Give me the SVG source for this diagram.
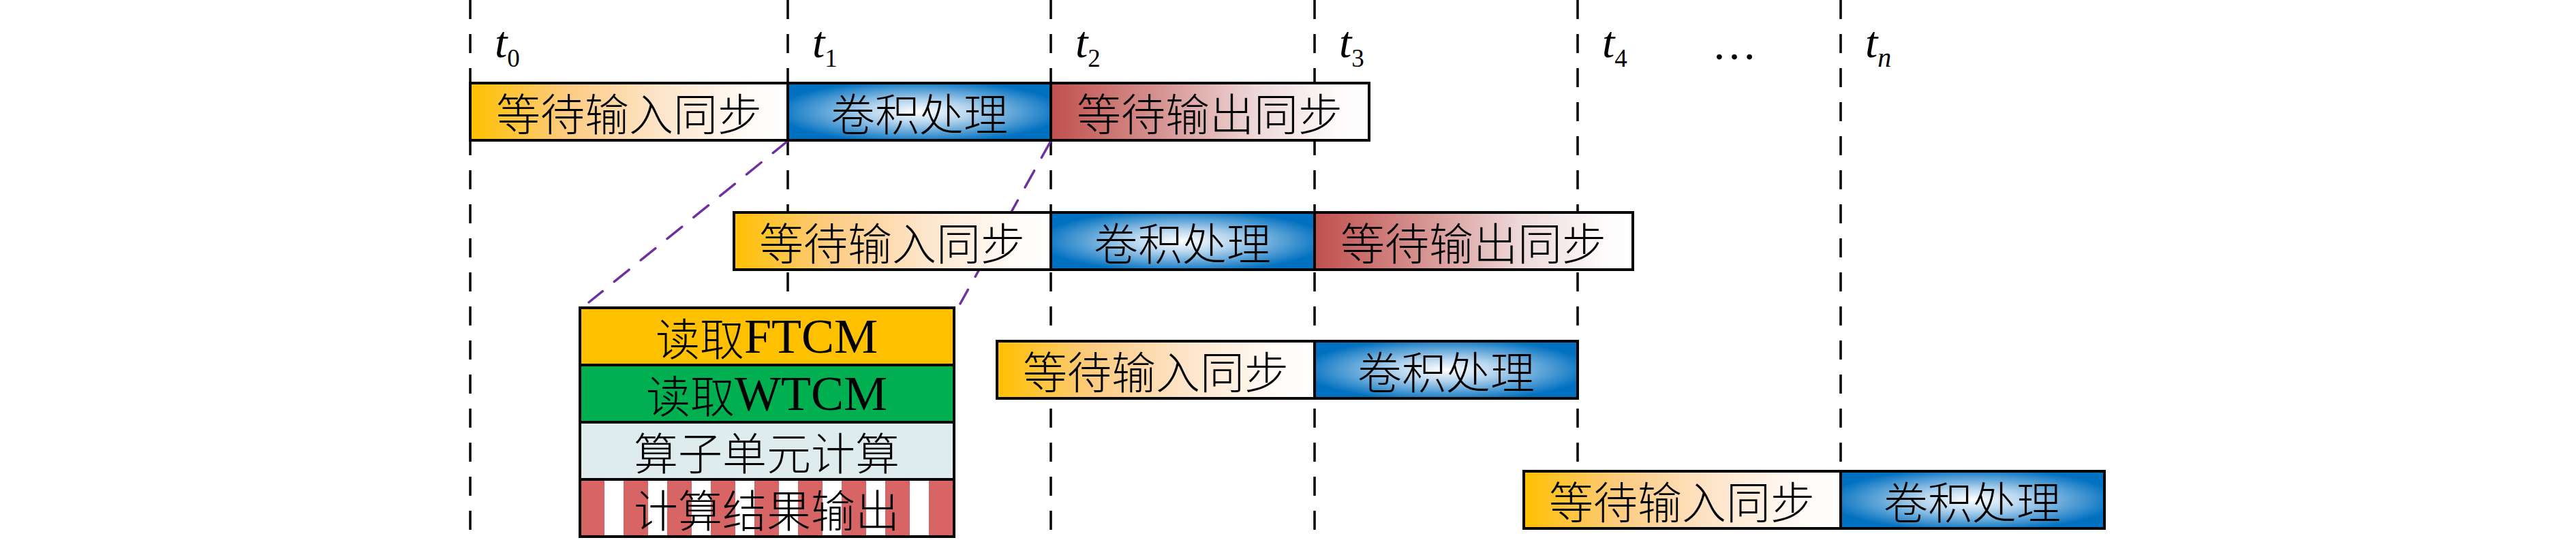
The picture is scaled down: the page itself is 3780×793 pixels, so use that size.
<svg xmlns="http://www.w3.org/2000/svg" width="3780" height="793" viewBox="0 0 3780 793">
<defs>
<linearGradient id="gIn" x1="0" y1="0" x2="1" y2="0">
<stop offset="0" stop-color="#FFC000"/>
<stop offset="0.3" stop-color="#FCCB80"/>
<stop offset="0.6" stop-color="#FDE5CB"/>
<stop offset="0.88" stop-color="#FFFBF7"/>
<stop offset="1" stop-color="#FFFFFF"/>
</linearGradient>
<linearGradient id="gOut" x1="0" y1="0" x2="1" y2="0">
<stop offset="0" stop-color="#C0504D"/>
<stop offset="0.35" stop-color="#D69593"/>
<stop offset="0.65" stop-color="#EED9D9"/>
<stop offset="0.9" stop-color="#FDFAFA"/>
<stop offset="1" stop-color="#FFFFFF"/>
</linearGradient>
<radialGradient id="gConv" cx="0.5" cy="0.5" r="0.55">
<stop offset="0" stop-color="#FFFFFF"/>
<stop offset="0.35" stop-color="#B6D5EE"/>
<stop offset="1" stop-color="#0070C0"/>
</radialGradient>
<pattern id="stripes" patternUnits="userSpaceOnUse" x="851" y="0" width="64" height="20">
<rect x="0" y="0" width="36" height="20" fill="#D86565"/>
<rect x="36" y="0" width="28" height="20" fill="#FFFFFF"/>
</pattern>
<style>
.vl{stroke:#000;stroke-width:3.5;stroke-dasharray:28 22;fill:none}
.pl{stroke:#7030A0;stroke-width:3.5;stroke-dasharray:28 22;fill:none;stroke-linecap:round}
.box{stroke:#000;stroke-width:4}
.in{fill:url(#gIn)}
.out{fill:url(#gOut)}
.conv{fill:url(#gConv)}
.cjk{font-family:"Noto Sans CJK SC","Noto Sans CJK TC",sans-serif;font-weight:300;font-size:65px;text-anchor:middle;dominant-baseline:central;fill:#000}
.lat{font-family:"Liberation Serif",serif;font-weight:400;font-size:72px}
.t{font-family:"Liberation Serif",serif;font-style:italic;font-size:66px;fill:#000}
.sub{font-style:normal;font-size:37px}
.subi{font-style:italic;font-size:40px}
</style>
</defs>
<rect width="3780" height="793" fill="#FFFFFF"/>
<g id="timelines">
<line class="vl" x1="690" y1="0" x2="690" y2="793"/>
<line class="vl" x1="1156" y1="0" x2="1156" y2="793"/>
<line class="vl" x1="1542" y1="0" x2="1542" y2="793"/>
<line class="vl" x1="1929" y1="0" x2="1929" y2="793"/>
<line class="vl" x1="2315" y1="0" x2="2315" y2="793"/>
<line class="vl" x1="2701" y1="0" x2="2701" y2="793"/>
</g>
<g id="labels">
<text class="t" x="726" y="84">t<tspan class="sub" dy="14">0</tspan></text>
<text class="t" x="1192" y="84">t<tspan class="sub" dy="14">1</tspan></text>
<text class="t" x="1578" y="84">t<tspan class="sub" dy="14">2</tspan></text>
<text class="t" x="1965" y="84">t<tspan class="sub" dy="14">3</tspan></text>
<text class="t" x="2351" y="84">t<tspan class="sub" dy="14">4</tspan></text>
<text class="t" x="2545" y="87" style="font-style:normal;text-anchor:middle">…</text>
<text class="t" x="2737" y="84">t<tspan class="subi" dy="14">n</tspan></text>
</g>
<g id="connectors">
<line class="pl" x1="1156" y1="207" x2="864" y2="444"/>
<line class="pl" x1="1542" y1="207" x2="1409" y2="446"/>
</g>
<g id="row1">
<rect class="box in" x="690" y="122" width="466" height="84"/>
<rect class="box conv" x="1156" y="122" width="386" height="84"/>
<rect class="box out" x="1542" y="122" width="467" height="84"/>
<text class="cjk" x="923" y="164">等待输入同步</text>
<text class="cjk" x="1349" y="164">卷积处理</text>
<text class="cjk" x="1775" y="164">等待输出同步</text>
</g>
<g id="row2">
<rect class="box in" x="1077" y="312" width="465" height="84"/>
<rect class="box conv" x="1542" y="312" width="387" height="84"/>
<rect class="box out" x="1929" y="312" width="467" height="84"/>
<text class="cjk" x="1309" y="354">等待输入同步</text>
<text class="cjk" x="1735" y="354">卷积处理</text>
<text class="cjk" x="2162" y="354">等待输出同步</text>
</g>
<g id="row3">
<rect class="box in" x="1463" y="501" width="466" height="84"/>
<rect class="box conv" x="1929" y="501" width="386" height="84"/>
<text class="cjk" x="1696" y="543">等待输入同步</text>
<text class="cjk" x="2122" y="543">卷积处理</text>
</g>
<g id="row4">
<rect class="box in" x="2236" y="692" width="465" height="84"/>
<rect class="box conv" x="2701" y="692" width="387" height="84"/>
<text class="cjk" x="2468" y="734">等待输入同步</text>
<text class="cjk" x="2894" y="734">卷积处理</text>
</g>
<g id="detail">
<rect class="box" x="851" y="452" width="549" height="84" fill="#FFC000"/>
<rect class="box" x="851" y="536" width="549" height="84" fill="#00B050"/>
<rect class="box" x="851" y="620" width="549" height="84" fill="#DEECED"/>
<rect class="box" x="851" y="704" width="549" height="84" fill="url(#stripes)"/>
<text class="cjk" x="1125" y="494">读取<tspan class="lat">FTCM</tspan></text>
<text class="cjk" x="1125" y="578">读取<tspan class="lat">WTCM</tspan></text>
<text class="cjk" x="1125" y="662">算子单元计算</text>
<text class="cjk" x="1125" y="746">计算结果输出</text>
</g>
</svg>
